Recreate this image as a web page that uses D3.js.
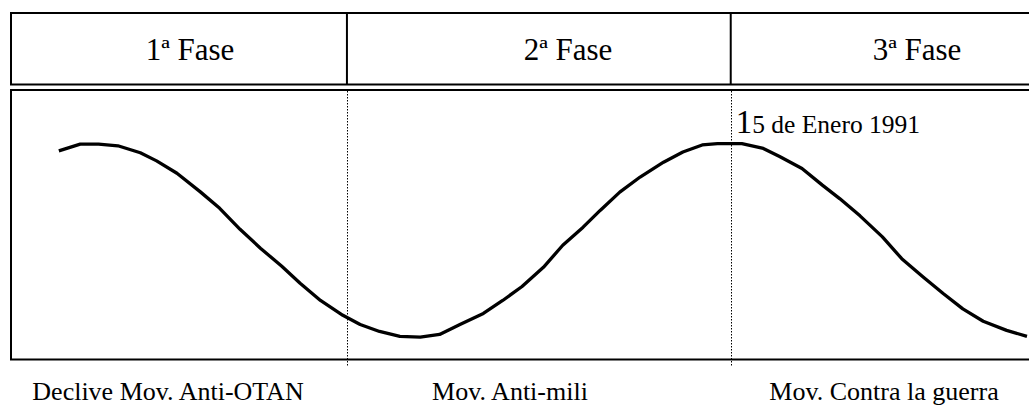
<!DOCTYPE html>
<html lang="es">
<head>
  <meta charset="UTF-8">
  <title>Fases del movimiento</title>
  <script src="https://d3js.org/d3.v7.min.js"></script>
  <style>
    body { margin: 0; background: #fff; }
    svg text { font-family: 'Liberation Serif', 'Tinos', 'DejaVu Serif', serif; fill: #000; }
    .phase-title { font-size: 31px; text-anchor: middle; }
    .phase-label { font-size: 26px; text-anchor: middle; }
    .note { font-size: 25.5px; }
    .frame { stroke: #000; stroke-width: 2; fill: none; }
    .divider { stroke: #000; stroke-width: 1; stroke-dasharray: 1.5,1.5; }
  </style>
</head>
<body>
  <svg id="chart" width="1029" height="408"></svg>

  <script>
    // Phases and their labels
    const phaseTitles = ["1ª Fase", "2ª Fase", "3ª Fase"];
    const phaseLabels = ["Declive Mov. Anti-OTAN", "Mov. Anti-mili", "Mov. Contra la guerra"];
    // boundaries between phases (time units, 0-100)
    const phaseBreaks = [33.0, 70.7];
    const markerLabel = "15 de Enero 1991";

    // Curve: time (0-100) and level (0-100)
    const curveT = [4.7, 6.8, 8.6, 10.5, 12.7, 14.3, 16.3, 18.6, 20.5, 22.5, 24.5, 26.6, 28.4, 30.4, 32.6,
      34.3, 36.2, 38.2, 40.2, 42.1, 44.1, 46.4, 48.3, 50.2, 52.3, 54.2, 56.2, 57.9, 59.8, 61.8, 64.1,
      66.0, 67.9, 69.4, 71.8, 73.9, 75.5, 77.7, 79.7, 81.4, 83.4, 85.6, 87.5, 89.6, 91.6, 93.5, 95.5,
      97.8, 99.8];
    const curveLevel = [77.4, 79.9, 79.9, 79.3, 76.7, 73.7, 69.1, 62.2, 56.1, 48.3, 41.3, 34.6, 28.3, 21.9, 16.4,
      13.0, 10.4, 8.6, 8.3, 9.3, 13.0, 17.1, 21.9, 27.1, 34.2, 42.4, 49.1, 55.4, 62.1, 67.7, 73.2,
      77.0, 79.6, 80.1, 80.1, 78.3, 75.3, 70.9, 64.7, 59.7, 53.3, 45.5, 37.4, 30.6, 24.4, 18.8, 14.2,
      10.8, 8.6];

    const curve = curveT.map((t, i) => ({ t: t, v: curveLevel[i] }));

    // Layout
    const left = 11, right = 1029;
    const headTop = 13, headBottom = 84.5;
    const plotTop = 90, plotBottom = 359.5;
    const titleX = [190, 568, 917];
    const labelX = [168, 510, 884];

    const svg = d3.select("#chart");

    const x = d3.scaleLinear().domain([0, 100]).range([left, right]);
    const y = d3.scaleLinear().domain([0, 100]).range([plotBottom, plotTop]);

    // Header band
    svg.append("path")
      .attr("class", "frame")
      .attr("d", `M${right + 5},${headTop}H${left}V${headBottom}H${right + 5}`);

    svg.selectAll(".head-div")
      .data(phaseBreaks)
      .enter()
      .append("line")
      .attr("class", "frame head-div")
      .attr("x1", d => x(d)).attr("x2", d => x(d))
      .attr("y1", headTop).attr("y2", headBottom);

    svg.selectAll(".phase-title")
      .data(phaseTitles)
      .enter()
      .append("text")
      .attr("class", "phase-title")
      .attr("x", (d, i) => titleX[i])
      .attr("y", 60)
      .text(d => d);

    // Plot frame (open on the right)
    svg.append("path")
      .attr("class", "frame")
      .attr("d", `M${right + 5},${plotTop}H${left}V${plotBottom}H${right + 5}`);

    // Dotted phase boundaries
    svg.selectAll(".divider")
      .data(phaseBreaks)
      .enter()
      .append("line")
      .attr("class", "divider")
      .attr("x1", d => Math.round(x(d)) + 0.5).attr("x2", d => Math.round(x(d)) + 0.5)
      .attr("y1", plotTop + 1).attr("y2", plotBottom + 6);

    // The curve
    svg.append("path")
      .datum(curve)
      .attr("fill", "none")
      .attr("stroke", "#000")
      .attr("stroke-width", 3.3)
      .attr("stroke-linejoin", "round")
      .attr("d", d3.line().x(d => x(d.t)).y(d => y(d.v)));

    // Date note next to the second boundary
    const note = svg.append("text")
      .attr("class", "note")
      .attr("x", x(phaseBreaks[1]) + 5)
      .attr("y", 133);
    note.append("tspan").style("font-size", "33px").text(markerLabel.slice(0, 1));
    note.append("tspan").text(markerLabel.slice(1));

    // Phase labels under the plot
    svg.selectAll(".phase-label")
      .data(phaseLabels)
      .enter()
      .append("text")
      .attr("class", "phase-label")
      .attr("x", (d, i) => labelX[i])
      .attr("y", 400)
      .text(d => d);
  </script>
</body>
</html>
